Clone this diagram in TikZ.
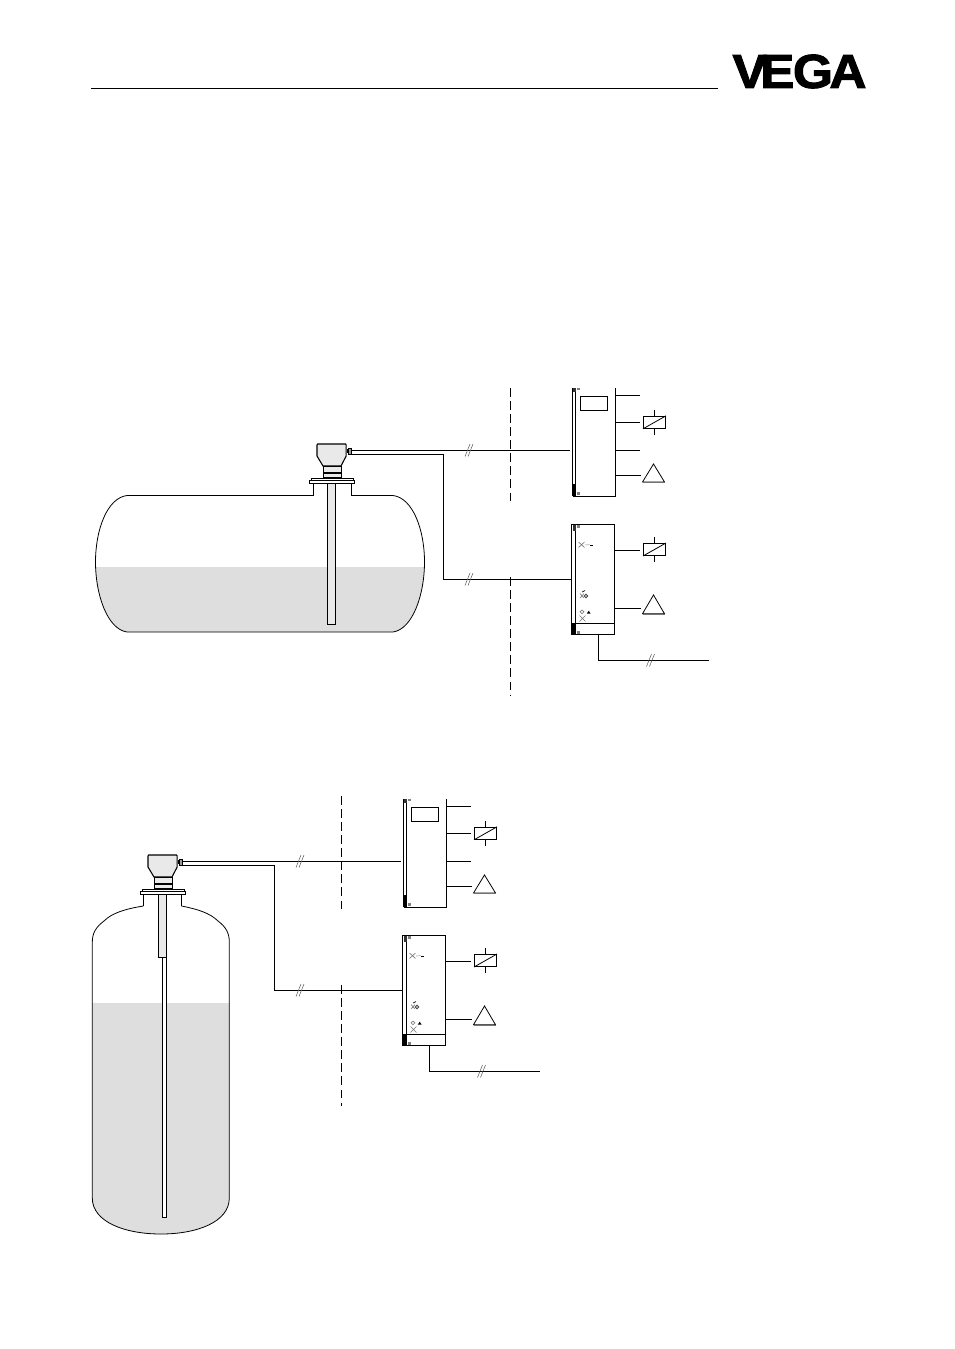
\documentclass[tikz,border=0pt]{standalone}
\usepackage{fontspec}
\setmainfont{Liberation Sans}
\definecolor{liq}{HTML}{DEDEDE}
\definecolor{probe}{HTML}{E9E9E9}
\tikzset{
  ln/.style={draw=black,line width=0.6pt},
  cable/.style={draw=black,line width=0.65pt},
  dashline/.style={draw=black,line width=0.7pt,dash pattern=on 6.6pt off 3.2pt},
  tick/.style={draw=black!65,line width=0.4pt},
  relay/.style={draw=black,fill=white,line width=0.75pt,rectangle,minimum width=16.5pt,minimum height=9pt,inner sep=0pt},
  panel/.style={draw=black,fill=white,line width=0.7pt,rectangle,inner sep=0pt},
  icon/.style={draw=black!55,line width=0.45pt},
  pics/sensor/.style={code={
    \coordinate (-t1) at (351,450);
    \coordinate (-t2) at (351,454);
    \path[ln,fill=probe] (327.3,482) rectangle (335.3,#1);
    \path[ln,line width=0.8pt,fill=probe] (317,445) -- (317.6,444) -- (345.6,444) -- (346.2,445) -- (346.2,456) -- (341,466) -- (323,466) -- (317,456) -- cycle;
    \path[ln,fill=probe] (323.5,466) rectangle (341,477.5);
    \fill (323.5,472) rectangle (341,474);
    \path[ln,line width=0.7pt,fill=white] (311,478.3) rectangle (353,480.2);
    \path[ln,line width=0.7pt,fill=white] (309.5,480.2) rectangle (354.2,483);
    \fill (346.5,449) rectangle (348.5,453);
    \path[ln,fill=black!40] (348.5,448.5) rectangle (351.5,454.5);
  }},
  pics/unitA/.style={code={
    \path[draw=black,line width=0.7pt] (615,388) -- (615,496) -- (572.8,496);
    \path[draw=black,line width=0.8pt] (572.8,388) -- (572.8,496);
    \path[draw=black,line width=0.6pt] (575.6,390) -- (575.6,484);
    \fill (572,484) rectangle (576,496.4);
    \fill[black!80] (572.5,388) rectangle (576,392);
    \fill[black!50] (577,387.5) rectangle (580,390);
    \fill[black!50] (576.5,492) rectangle (580,495);
    \node[panel,minimum width=20.5pt,minimum height=10.5pt] (-disp) at (594,403.3) {};
    \node[relay] (-rel) at (654.5,422.3) {};
    \draw[ln] (-rel.south west) -- (-rel.north east);
    \draw[line width=0.9pt] (-rel.north) -- ++(0,-6);
    \draw[line width=0.9pt] (-rel.south) -- ++(0,6);
    \coordinate (-a) at (615,395.3); \coordinate (-ae) at (640,395.3);
    \coordinate (-b) at (615,422.3);
    \coordinate (-c) at (615,450.3); \coordinate (-ce) at (640,450.3);
    \coordinate (-d) at (615,475.3);
    \coordinate (-tb) at (640,422.3);
    \coordinate (-te) at (641,475.3);
    \coordinate (-in) at (570,450);
    \draw[ln] (653.5,464) -- (664.5,482) -- (642.5,482) -- cycle;
    \draw[black!55,line width=0.6pt] (642.5,482.6) -- (664.5,482.6);
    \draw[ln] (-a) -- (-ae);
    \draw[ln] (-b) -- (-tb);
    \draw[ln] (-c) -- (-ce);
    \draw[ln] (-d) -- (-te);
  }},
  pics/unitB/.style={code={
    \node[draw=black,line width=0.7pt,minimum width=32.4pt,minimum height=83pt,inner sep=0pt] (-box) at (592.8,579.6) {};
    \draw[line width=0.7pt] (575.3,524.3) -- (575.3,623.3);
    \draw[line width=0.7pt] (571.2,623.3) -- (614.4,623.3);
    \fill (571,623.3) rectangle (575.6,635);
    \fill[black!80] (572.5,525) rectangle (576,531);
    \fill[black!50] (577,525) rectangle (580,528);
    \fill[black!50] (576.5,631) rectangle (580,634);
    % indicator marks
    \draw[icon] (578.5,542) -- (584.5,547.5) (584.5,542) -- (578.5,547.5);
    \draw[black!30,line width=0.5pt] (585,545) -- (589.5,544.5);
    \draw[black,line width=0.6pt] (590,545) -- (592.7,545);
    \draw[black,line width=0.5pt] (582,592) -- (585,590.5);
    \draw[icon] (580,593.5) -- (584,598) (584,593.5) -- (580,598);
    \draw[black!75,line width=0.6pt] (586,596) circle (1.3pt);
    \draw[icon] (582,610) -- (584,611.8) -- (582,613.6) -- (580,611.8) -- cycle;
    \fill[black] (586.7,613.7) -- (588.7,610.7) -- (590.7,613.7) -- cycle;
    \draw[icon] (579.5,615.5) -- (585.5,621.5) (585.5,615.5) -- (579.5,621.5);
    \node[relay] (-rel) at (654.5,549.5) {};
    \draw[ln] (-rel.south west) -- (-rel.north east);
    \draw[line width=0.9pt] (-rel.north) -- ++(0,-6);
    \draw[line width=0.9pt] (-rel.south) -- ++(0,6);
    \coordinate (-a) at (614.4,550); \coordinate (-ae) at (640,550);
    \coordinate (-d) at (614.4,608); \coordinate (-de) at (641,608);
    \draw[ln] (-a) -- (-ae);
    \draw[ln] (-d) -- (-de);
    \draw[ln] (653.5,595) -- (664.5,613.7) -- (642.5,613.7) -- cycle;
    \draw[black!55,line width=0.6pt] (642.5,614.3) -- (664.5,614.3);
    \coordinate (-out) at (598.7,635);
    \coordinate (-outc) at (598.7,660);
    \coordinate (-oute) at (709,660);
    \draw[cable] (-out) -- (-outc) -- (-oute);
    \draw[tick] (646.5,666.5) -- (651.5,654) (649.5,666.5) -- (654.5,654);
  }},
}
\begin{document}
\begin{tikzpicture}[x=0.75pt,y=-0.75pt]
\useasboundingbox (0,0) rectangle (954,1349);
% header
\coordinate (hl) at (91,88); \coordinate (hr) at (718,88);
\draw[line width=0.6pt] (hl) -- (hr);
\node[inner sep=0pt,anchor=center] (logo) at (799.5,71.5) {\resizebox{100.5pt}{25pt}{\special{pdf:literal 2 Tr 0.2 w}\textbf{V\kern-.13em E\kern-.03em G\kern-.07em A}\special{pdf:literal 0 Tr 0 w}}};
% horizontal tank
\begin{scope}
\clip (127,495.5) .. controls (107,498) and (95.5,530) .. (95.5,562) .. controls (95.5,594) and (107,629) .. (127,632) -- (393,632) .. controls (413,629) and (424.5,594) .. (424.5,562) .. controls (424.5,530) and (413,498) .. (393,495.5) -- cycle;
\fill[liq] (90,567) rectangle (430,640);
\end{scope}
\draw[ln] (313,495.5) -- (127,495.5) .. controls (107,498) and (95.5,530) .. (95.5,562) .. controls (95.5,594) and (107,629) .. (127,632) -- (393,632) .. controls (413,629) and (424.5,594) .. (424.5,562) .. controls (424.5,530) and (413,498) .. (393,495.5) -- (351,495.5);
\draw[ln] (313,495.5) -- (313,482) (351,495.5) -- (351,482);
\pic (s1) at (0,0) {sensor=624};
% vertical tank
\begin{scope}
\clip (143.3,906) .. controls (125,909) and (112,913) .. (104,921) .. controls (96,927) and (92.3,933) .. (92.3,942) -- (92.3,1198) .. controls (92.3,1222) and (125,1234) .. (161,1234) .. controls (197,1234) and (229.3,1222) .. (229.3,1198) -- (229.3,942) .. controls (229.3,933) and (226,927) .. (218,921) .. controls (210,913) and (197,909) .. (181.5,906) -- cycle;
\fill[liq] (85,1003) rectangle (235,1240);
\end{scope}
\draw[ln] (143.3,906) .. controls (125,909) and (112,913) .. (104,921) .. controls (96,927) and (92.3,933) .. (92.3,942) -- (92.3,1198) .. controls (92.3,1222) and (125,1234) .. (161,1234) .. controls (197,1234) and (229.3,1222) .. (229.3,1198) -- (229.3,942) .. controls (229.3,933) and (226,927) .. (218,921) .. controls (210,913) and (197,909) .. (181.5,906);
\draw[ln] (143.3,906) -- (143.3,893) (181.5,906) -- (181.5,893);
\path[ln,fill=white] (162.3,957.3) rectangle (166.7,1217.7);
\draw[ln] (157.5,957.3) -- (166.7,957.3);
\pic (s2) at (-169,411) {sensor=546.3};
% units
\pic (a1) at (0,0) {unitA};
\pic (b1) at (0,0) {unitB};
\pic (a2) at (-169,411) {unitA};
\pic (b2) at (-169,411) {unitB};
% cables
\coordinate (c1) at (443,454);
\coordinate (c1b) at (443,579);
\coordinate (c2) at (274,865);
\coordinate (c2b) at (274,990);
\draw[cable] (s1-t1) -- (a1-in);
\draw[cable] (s1-t2) -- (c1) -- (c1b) -- (b1-box.west |- c1b);
\draw[cable] (s2-t1) -- (a2-in);
\draw[cable] (s2-t2) -- (c2) -- (c2b) -- (b2-box.west |- c2b);
% ticks
\draw[tick] (465,456.5) -- (470,444) (468,456.5) -- (473,444);
\draw[tick] (465,585.5) -- (470,573) (468,585.5) -- (473,573);
\draw[tick] (296,867.5) -- (301,855) (299,867.5) -- (304,855);
\draw[tick] (296,996.5) -- (301,984) (299,996.5) -- (304,984);
% dashed separators
\coordinate (d1a) at (510,388); \coordinate (d1b) at (510,502);
\coordinate (d2a) at (510,577); \coordinate (d2b) at (510,695);
\coordinate (d3a) at (341,796); \coordinate (d3b) at (341,913);
\coordinate (d4a) at (341,985); \coordinate (d4b) at (341,1106);
\draw[dashline] (d1a) -- (d1b);
\draw[dashline] (d2a) -- (d2b);
\draw[dashline] (d3a) -- (d3b);
\draw[dashline] (d4a) -- (d4b);
\end{tikzpicture}
\end{document}
